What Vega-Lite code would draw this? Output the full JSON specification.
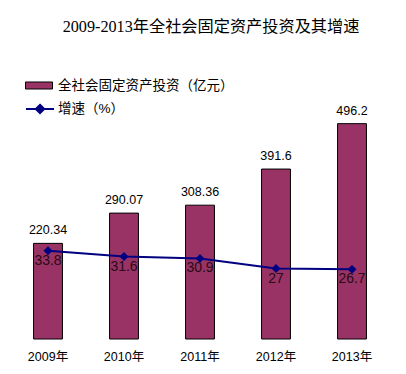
{
  "$schema": "https://vega.github.io/schema/vega-lite/v6.json",
  "width": 380,
  "height": 240,
  "autosize": "none",
  "padding": {"left": 10, "top": 99, "right": 16, "bottom": 35},
  "background": "white",
  "config": {
    "view": {"stroke": null},
    "font": "Liberation Sans, Noto Sans CJK SC",
    "legend": {"padding": 0, "labelFont": "Liberation Sans, Noto Sans CJK SC", "labelFontSize": 13.5, "labelColor": "#000000", "labelLimit": 300}
  },
  "title": {
    "text": "2009-2013年全社会固定资产投资及其增速",
    "font": "Liberation Serif, Noto Sans CJK SC",
    "fontSize": 16.2,
    "fontWeight": "normal",
    "color": "#000000",
    "anchor": "middle",
    "dx": 11,
    "offset": 36
  },
  "data": {
    "values": [
      {"year": "2009年", "inv": 220.34, "growth": 33.8, "s1": "全社会固定资产投资（亿元）", "s2": "增速（%）"},
      {"year": "2010年", "inv": 290.07, "growth": 31.6, "s1": "全社会固定资产投资（亿元）", "s2": "增速（%）"},
      {"year": "2011年", "inv": 308.36, "growth": 30.9, "s1": "全社会固定资产投资（亿元）", "s2": "增速（%）"},
      {"year": "2012年", "inv": 391.6, "growth": 27, "s1": "全社会固定资产投资（亿元）", "s2": "增速（%）"},
      {"year": "2013年", "inv": 496.2, "growth": 26.7, "s1": "全社会固定资产投资（亿元）", "s2": "增速（%）"}
    ]
  },
  "encoding": {
    "x": {
      "field": "year",
      "type": "nominal",
      "sort": null,
      "scale": {"paddingInner": 0.62, "paddingOuter": 0.31},
      "axis": {"title": null, "domain": false, "ticks": false, "labelAngle": 0, "labelPadding": 11, "labelFontSize": 12.5, "labelColor": "#000000", "labelFont": "Liberation Sans, Noto Sans CJK SC"}
    }
  },
  "layer": [
    {
      "layer": [
        {
          "mark": {"type": "bar", "stroke": "#000000", "strokeWidth": 1},
          "encoding": {
            "y": {"field": "inv", "type": "quantitative", "scale": {"domain": [0, 553]}, "axis": null},
            "fill": {
              "field": "s1", "type": "nominal",
              "scale": {"range": ["#993366"]},
              "legend": {"title": null, "orient": "none", "legendX": 15, "legendY": -27.5, "symbolType": "M-1,-0.26H1V0.26H-1Z", "symbolSize": 729, "symbolStrokeColor": "#000000", "symbolStrokeWidth": 1, "labelOffset": 5}
            }
          }
        },
        {
          "mark": {"type": "text", "baseline": "middle", "dy": -13, "fontSize": 12.5, "color": "#000000"},
          "encoding": {
            "y": {"field": "inv", "type": "quantitative", "scale": {"domain": [0, 553]}, "axis": null},
            "text": {"field": "inv", "type": "quantitative"}
          }
        }
      ]
    },
    {
      "layer": [
        {
          "mark": {"type": "line", "strokeWidth": 2},
          "encoding": {
            "y": {"field": "growth", "type": "quantitative", "scale": {"domain": [0, 92]}, "axis": null},
            "stroke": {
              "field": "s2", "type": "nominal",
              "scale": {"range": ["#000080"]},
              "legend": {"title": null, "orient": "none", "legendX": 15, "legendY": -5, "symbolType": "M-1,0H1M0,-0.3L0.3,0L0,0.3L-0.3,0Z", "symbolSize": 784, "symbolStrokeWidth": 2, "symbolFillColor": "#000080", "labelOffset": 3}
            }
          }
        },
        {
          "mark": {"type": "point", "shape": "diamond", "filled": true, "color": "#000080", "size": 80, "opacity": 1},
          "encoding": {
            "y": {"field": "growth", "type": "quantitative", "scale": {"domain": [0, 92]}, "axis": null}
          }
        },
        {
          "mark": {"type": "text", "baseline": "middle", "dy": 10, "fontSize": 14, "color": "#2a0a15"},
          "encoding": {
            "y": {"field": "growth", "type": "quantitative", "scale": {"domain": [0, 92]}, "axis": null},
            "text": {"field": "growth", "type": "quantitative"}
          }
        }
      ]
    }
  ],
  "resolve": {"scale": {"y": "independent"}}
}
